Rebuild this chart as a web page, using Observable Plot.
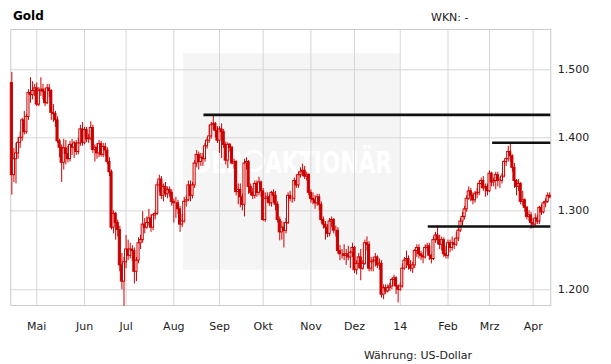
<!DOCTYPE html>
<html><head><meta charset="utf-8">
<script src="https://cdn.jsdelivr.net/npm/d3@7"></script>
<script src="https://cdn.jsdelivr.net/npm/@observablehq/plot@0.6"></script>
<style>
html,body{margin:0;padding:0;background:#fff;}
#chart{position:relative;width:611px;height:364px;}
</style></head><body><div id="chart"></div>
<script>
const startDate = "2013-04-15";
const open = [1480,1348,1370,1378,1393,1400,1425,1408,1430,1465,
1462,1468,1472,1448,1468,1470,1467,1450,1472,1468,
1436,1434,1425,1395,1386,1365,1385,1377,1370,1390,
1386,1392,1380,1392,1412,1393,1411,1398,1399,1414,
1383,1386,1378,1391,1376,1387,1382,1366,1352,1278,
1296,1284,1275,1230,1210,1234,1250,1242,1250,1248,
1222,1236,1258,1262,1282,1278,1284,1290,1278,1294,
1296,1334,1342,1320,1332,1322,1328,1324,1312,1310,
1310,1302,1282,1286,1312,1314,1334,1320,1334,1364,
1376,1366,1372,1370,1388,1396,1402,1418,1420,1410,
1396,1412,1408,1390,1368,1390,1386,1364,1366,1325,
1328,1318,1308,1364,1366,1332,1324,1320,1336,1324,
1338,1326,1288,1316,1318,1310,1324,1320,1308,1288,
1272,1278,1274,1284,1320,1316,1316,1340,1334,1348,
1352,1354,1346,1348,1324,1316,1314,1310,1318,1308,
1288,1282,1278,1270,1286,1288,1274,1274,1248,1244,
1244,1242,1244,1240,1246,1252,1224,1232,1240,1226,
1232,1258,1256,1226,1234,1236,1240,1230,1232,1194,
1202,1198,1202,1204,1212,1214,1204,1200,1204,1226,
1236,1238,1230,1226,1230,1248,1252,1244,1242,1240,
1252,1254,1242,1238,1262,1268,1262,1256,1262,1244,
1242,1258,1252,1258,1256,1264,1274,1286,1292,1302,
1316,1326,1320,1314,1322,1324,1336,1340,1330,1332,
1326,1350,1338,1340,1348,1340,1340,1346,1366,1370,
1380,1374,1358,1340,1332,1336,1312,1314,1304,1292,
1294,1284,1282,1290,1286,1304,1298,1310,1312,1320];
const high = [1496,1385,1392,1400,1408,1428,1438,1434,1470,1488,
1482,1478,1480,1473,1488,1478,1472,1478,1478,1470,
1448,1438,1430,1398,1390,1398,1396,1388,1395,1398,
1395,1396,1400,1418,1422,1415,1415,1405,1423,1418,
1390,1392,1396,1395,1392,1392,1386,1372,1355,1300,
1298,1288,1280,1245,1240,1268,1262,1258,1255,1252,
1240,1265,1268,1299,1290,1292,1302,1295,1296,1300,
1338,1348,1346,1336,1338,1332,1332,1328,1316,1318,
1314,1306,1295,1318,1320,1340,1340,1338,1368,1382,
1380,1378,1378,1392,1400,1418,1422,1433,1422,1416,
1416,1420,1412,1394,1393,1392,1388,1370,1368,1336,
1336,1322,1370,1372,1368,1336,1330,1340,1340,1345,
1340,1330,1324,1324,1322,1326,1328,1326,1312,1292,
1286,1285,1290,1324,1326,1320,1344,1348,1352,1358,
1363,1360,1352,1350,1328,1324,1320,1322,1322,1312,
1292,1286,1282,1290,1292,1290,1280,1278,1255,1250,
1256,1250,1254,1248,1258,1254,1236,1245,1250,1236,
1262,1266,1260,1240,1240,1245,1242,1238,1236,1206,
1206,1206,1208,1214,1218,1216,1206,1208,1232,1240,
1248,1242,1236,1234,1250,1256,1256,1248,1246,1256,
1258,1258,1244,1266,1272,1280,1268,1266,1265,1254,
1262,1262,1266,1264,1272,1278,1290,1298,1306,1320,
1332,1330,1324,1326,1330,1340,1344,1346,1336,1336,
1354,1352,1344,1352,1352,1344,1350,1368,1372,1388,
1393,1376,1364,1342,1342,1338,1326,1316,1306,1300,
1298,1290,1296,1294,1306,1308,1312,1316,1324,1324];
const low = [1321,1338,1336,1370,1385,1395,1404,1405,1425,1450,
1455,1460,1445,1445,1460,1455,1445,1448,1458,1425,
1422,1415,1392,1372,1338,1355,1362,1365,1366,1375,
1371,1375,1376,1388,1388,1390,1393,1392,1396,1378,
1366,1370,1372,1373,1372,1374,1362,1346,1275,1270,
1262,1266,1222,1200,1180,1226,1236,1238,1235,1207,
1210,1232,1250,1258,1270,1276,1280,1272,1274,1288,
1294,1325,1315,1312,1318,1316,1318,1306,1284,1290,
1295,1272,1278,1284,1305,1312,1312,1316,1330,1358,
1355,1360,1360,1366,1384,1392,1398,1410,1400,1392,
1378,1371,1385,1362,1357,1380,1362,1356,1320,1308,
1304,1300,1292,1355,1322,1320,1315,1316,1318,1320,
1318,1286,1285,1310,1306,1305,1310,1300,1284,1261,
1262,1252,1270,1282,1312,1310,1312,1330,1330,1344,
1346,1342,1340,1320,1310,1308,1302,1306,1300,1284,
1276,1262,1265,1266,1278,1270,1266,1244,1236,1238,
1236,1230,1236,1226,1240,1220,1218,1226,1211,1224,
1230,1248,1222,1222,1222,1228,1226,1224,1190,1188,
1194,1196,1198,1200,1204,1194,1184,1198,1202,1224,
1226,1224,1222,1220,1226,1240,1238,1236,1232,1238,
1246,1236,1232,1236,1258,1256,1250,1248,1240,1238,
1238,1246,1248,1250,1254,1260,1272,1280,1288,1298,
1314,1312,1308,1310,1316,1320,1330,1326,1318,1320,
1324,1332,1332,1328,1332,1330,1336,1344,1360,1366,
1366,1352,1330,1320,1326,1308,1306,1298,1288,1286,
1276,1277,1280,1282,1282,1294,1296,1304,1310,1316];
const close = [1348,1370,1378,1393,1400,1425,1408,1430,1465,1462,
1468,1472,1448,1468,1470,1467,1450,1472,1468,1436,
1434,1425,1395,1386,1365,1385,1377,1370,1390,1386,
1392,1380,1392,1412,1393,1411,1398,1399,1414,1383,
1386,1378,1391,1376,1387,1382,1366,1352,1278,1296,
1284,1275,1230,1210,1234,1250,1242,1250,1248,1222,
1236,1258,1262,1282,1278,1284,1290,1278,1294,1296,
1334,1342,1320,1332,1322,1328,1324,1312,1310,1310,
1302,1282,1286,1312,1314,1334,1320,1334,1364,1376,
1366,1372,1370,1388,1396,1402,1418,1420,1410,1396,
1412,1408,1390,1368,1390,1386,1364,1366,1325,1328,
1318,1308,1364,1366,1332,1324,1320,1336,1324,1338,
1326,1288,1316,1318,1310,1324,1320,1308,1288,1272,
1278,1274,1284,1320,1316,1316,1340,1334,1348,1352,
1354,1346,1348,1324,1316,1314,1310,1318,1308,1288,
1282,1278,1270,1286,1288,1274,1274,1248,1244,1244,
1242,1244,1240,1246,1252,1224,1232,1240,1226,1232,
1258,1256,1226,1234,1236,1240,1230,1232,1194,1202,
1198,1202,1204,1212,1214,1204,1200,1204,1226,1236,
1238,1230,1226,1230,1248,1252,1244,1242,1240,1252,
1254,1242,1238,1262,1268,1262,1256,1262,1244,1242,
1258,1252,1258,1256,1264,1274,1286,1292,1302,1316,
1326,1320,1314,1322,1324,1336,1340,1330,1332,1326,
1350,1338,1340,1348,1340,1340,1346,1366,1370,1380,
1374,1358,1340,1332,1336,1312,1314,1304,1292,1294,
1284,1282,1290,1286,1304,1298,1310,1312,1320,1318];

const monthLabels = ["Mai","Jun","Jul","Aug","Sep","Okt","Nov","Dez","14","Feb","Mrz","Apr"];
const yTicks = [1200, 1300, 1400, 1500];
const yTickLabels = ["1.200", "1.300", "1.400", "1.500"];
const levelValues = [1433, 1393, 1279.5];
const levelStarts = ["2013-08-22", "2014-03-05", "2014-01-21"];
const titleText = "Gold";
const wknText = "WKN: -";
const currencyText = "Währung: US-Dollar";
const watermark = ["DER", "AKTIONÄR"];

// trading days (weekdays)
const dates = [];
let cur = new Date(startDate + "T12:00:00Z");
while (dates.length < close.length) {
  const wd = cur.getUTCDay();
  if (wd !== 0 && wd !== 6) dates.push(new Date(cur));
  cur = new Date(cur.getTime() + 864e5);
}
const fmt = d3.utcFormat("%Y-%m-%d");
const idx = new Map(dates.map((d, i) => [fmt(d), i]));
const bars = close.map((c, i) => ({i, open: open[i], high: high[i], low: low[i], close: c}));
const monthTicks = dates.map((d, i) => i).filter(i => i > 0 && dates[i].getUTCMonth() !== dates[i - 1].getUTCMonth());
const xMax = close.length - 0.5;
const levels = levelValues.map((v, k) => ({value: v, start: idx.get(levelStarts[k]) - 0.5, end: xMax}));

const red = "#cc0000";
const grid = "#d6d6d6";
const plot = Plot.plot({
  width: 611, height: 364,
  marginTop: 29, marginBottom: 59, marginLeft: 10.3, marginRight: 60.7,
  style: {background: "transparent", fontFamily: "'DejaVu Sans', Verdana, sans-serif", fontSize: "11px", color: "#222"},
  x: {type: "linear", domain: [-0.5, xMax], label: null},
  y: {type: "log", domain: [1181, 1562.6], label: null},
  marks: [
    Plot.ruleX(monthTicks, {stroke: grid, strokeWidth: 1}),
    Plot.ruleY(yTicks, {stroke: grid, strokeWidth: 1}),
    Plot.frame({stroke: "#cccccc"}),
    Plot.ruleX(bars, {x: "i", y1: "low", y2: "high", stroke: red, strokeWidth: 1}),
    Plot.rect(bars, {x1: d => d.i - 0.5, x2: d => d.i + 0.5, y1: "open", y2: "close",
      fill: d => d.close >= d.open ? "#ffffff" : red, stroke: red, strokeWidth: 1}),
    Plot.ruleY(levels, {y: "value", x1: "start", x2: "end", stroke: "#111", strokeWidth: 2.6}),
    Plot.axisX(monthTicks, {tickSize: 0, tickPadding: 17, label: null,
      tickFormat: d => monthLabels[monthTicks.indexOf(d)]}),
    Plot.axisY(yTicks, {anchor: "right", tickSize: 0, tickPadding: 7, label: null,
      tickFormat: d => yTickLabels[yTicks.indexOf(d)]})
  ]
});

const svg = d3.select(plot);
const wm = svg.insert("g", ":first-child").attr("text-anchor", "start");
wm.append("rect").attr("x", 183).attr("y", 53.3).attr("width", 217).attr("height", 216.7).attr("fill", "#f5f5f5");
wm.append("text").attr("x", 193).attr("y", 172.7).attr("fill", "#fff").attr("text-anchor", "start")
  .attr("font-family", "'DejaVu Sans Condensed', 'DejaVu Sans', sans-serif").attr("font-weight", "bold")
  .attr("font-size", 31).attr("textLength", 50).attr("lengthAdjust", "spacingAndGlyphs").text(watermark[0]);
wm.append("circle").attr("cx", 254).attr("cy", 161).attr("r", 9.5).attr("fill", "none").attr("stroke", "#fff").attr("stroke-width", 3);
wm.append("text").attr("x", 265).attr("y", 172.7).attr("fill", "#fff").attr("text-anchor", "start")
  .attr("font-family", "'DejaVu Sans Condensed', 'DejaVu Sans', sans-serif").attr("font-weight", "bold")
  .attr("font-size", 31).attr("textLength", 127).attr("lengthAdjust", "spacingAndGlyphs").text(watermark[1]);

const tf = "'DejaVu Sans', Verdana, sans-serif";
svg.append("text").attr("x", 13).attr("y", 19.6).attr("text-anchor", "start").attr("font-family", tf).attr("font-weight", "bold")
  .attr("font-size", 12).attr("fill", "#000").text(titleText);
svg.append("text").attr("x", 431).attr("y", 20.5).attr("text-anchor", "start").attr("font-family", tf)
  .attr("font-size", 11).attr("fill", "#222").text(wknText);
svg.append("text").attr("x", 472).attr("y", 358.5).attr("text-anchor", "end").attr("font-family", tf)
  .attr("font-size", 11).attr("fill", "#222").text(currencyText);

document.getElementById("chart").appendChild(plot);
</script></body></html>
